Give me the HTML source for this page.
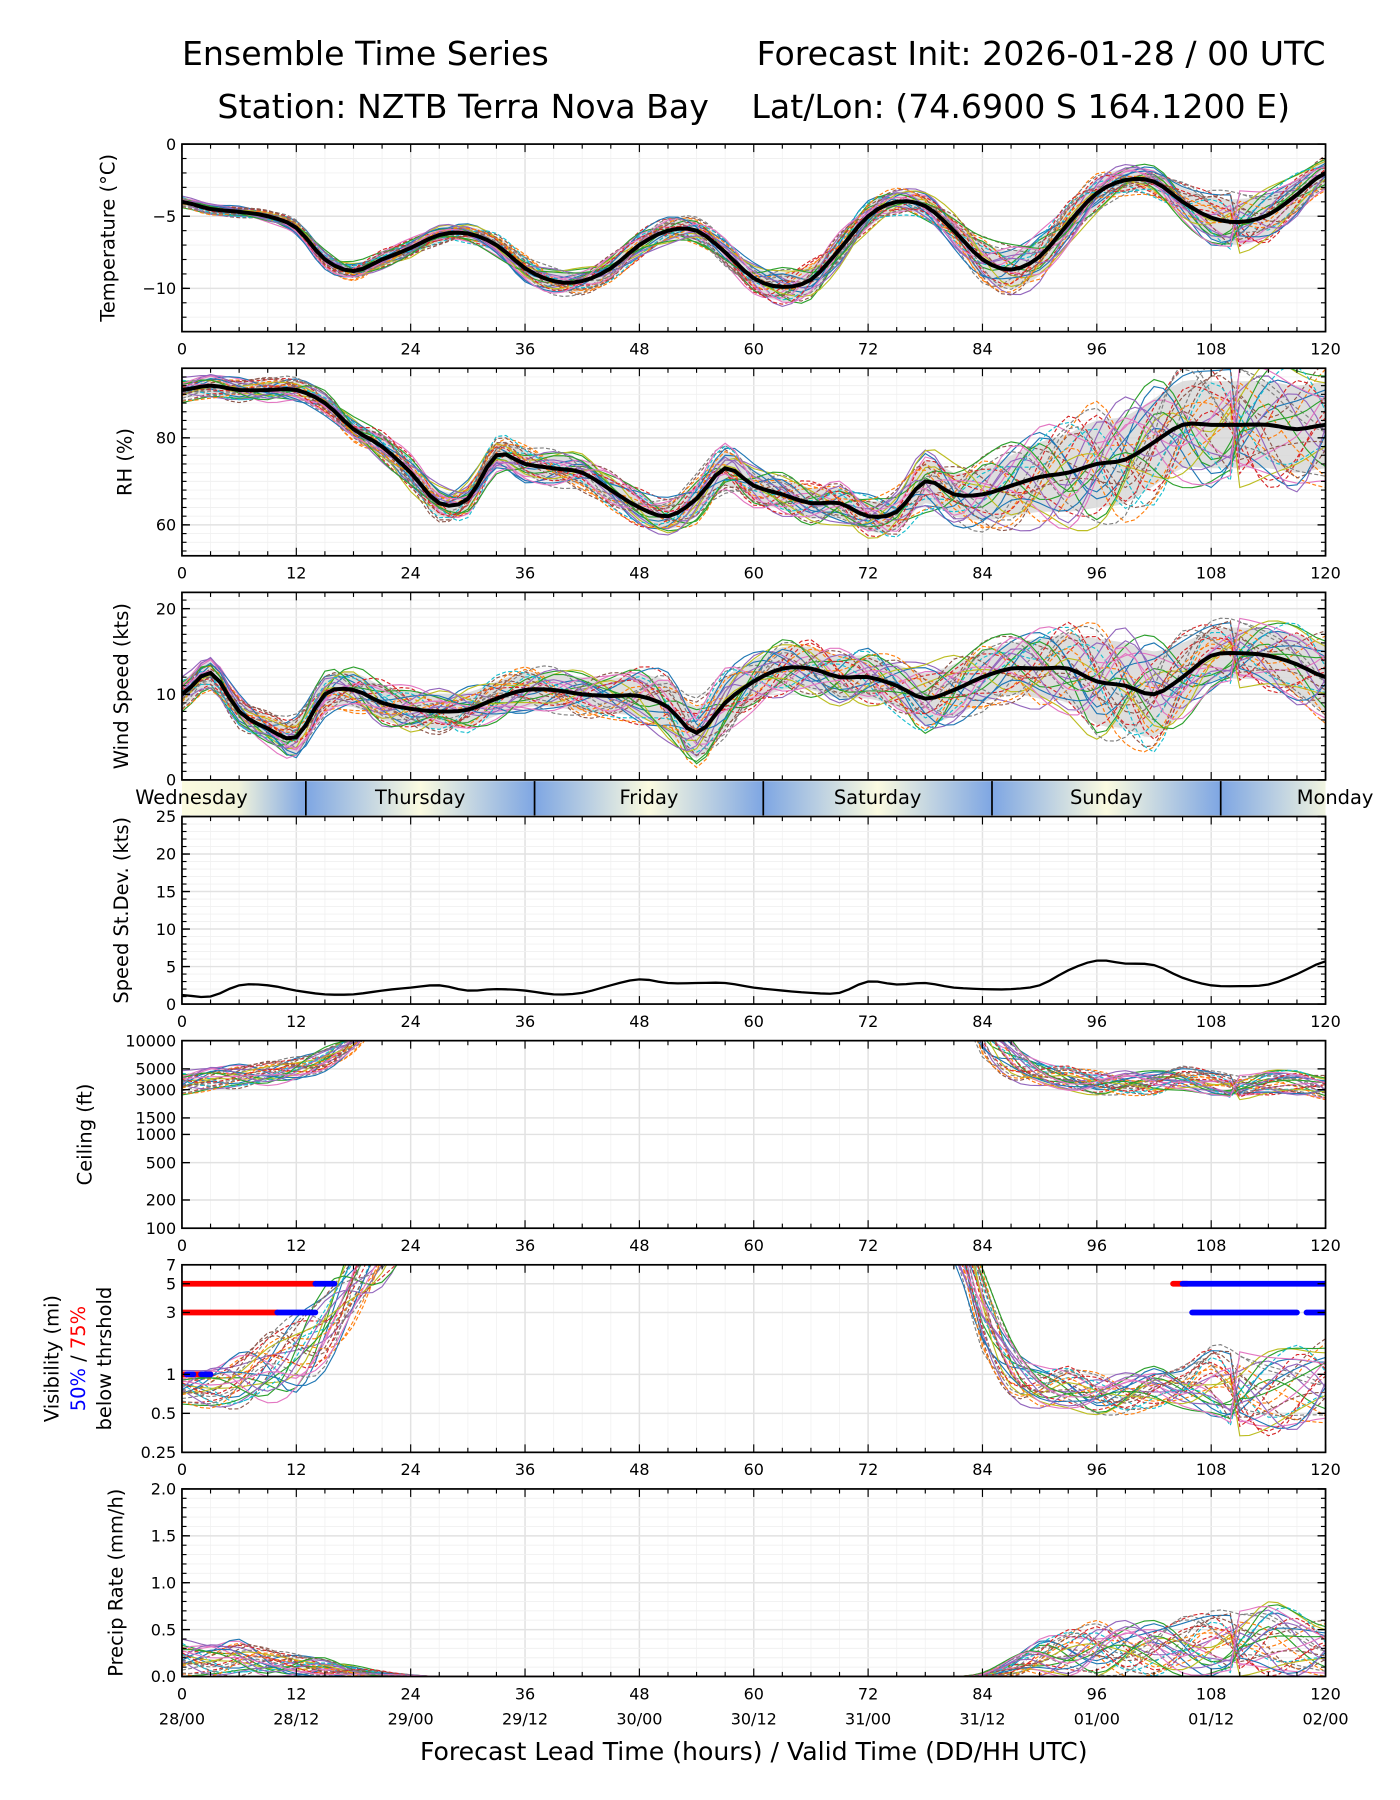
<!DOCTYPE html>
<html><head><meta charset="utf-8"><style>
html,body{margin:0;padding:0;background:#fff;}
svg{display:block;font-family:"DejaVu Sans","Liberation Sans",sans-serif;}
</style></head><body>
<svg id="chart" xmlns="http://www.w3.org/2000/svg" width="1400" height="1800" viewBox="0 0 1224 1574">
<defs>
<linearGradient id="gFirst" x1="0" x2="1" y1="0" y2="0"><stop offset="0" stop-color="#fbfbe0"/><stop offset="0.45" stop-color="#f2f4dc"/><stop offset="1" stop-color="#7ea6e3"/></linearGradient>
<linearGradient id="gDay" x1="0" x2="1" y1="0" y2="0"><stop offset="0" stop-color="#7ea6e3"/><stop offset="0.5" stop-color="#fbfbe0"/><stop offset="1" stop-color="#7ea6e3"/></linearGradient>
</defs>
<g font-size="29">
<text x="159" y="57">Ensemble Time Series</text>
<text x="1159" y="57" text-anchor="end">Forecast Init: 2026-01-28 / 00 UTC</text>
<text x="190" y="103">Station: NZTB Terra Nova Bay</text>
<text x="1128" y="103" text-anchor="end">Lat/Lon: (74.6900 S 164.1200 E)</text>
</g>
<g id="root"></g>
</svg>
<script>
// ---------- DATA (3-hourly, lead hours 0..120) ----------
const hours = [0,3,6,9,12,15,18,21,24,27,30,33,36,39,42,45,48,51,54,57,60,63,66,69,72,75,78,81,84,87,90,93,96,99,102,105,108,111,114,117,120];
const tempMean = [-4.0,-4.5,-4.7,-5.0,-5.8,-8.0,-8.8,-8.0,-7.2,-6.3,-6.2,-7.0,-8.6,-9.5,-9.5,-8.6,-7.0,-6.0,-6.0,-7.5,-9.3,-9.9,-9.4,-7.3,-5.0,-4.0,-4.3,-6.0,-8.0,-8.7,-7.8,-5.5,-3.4,-2.5,-2.6,-4.0,-5.1,-5.4,-4.9,-3.5,-2.0];
const tempSpread = [0.3,0.3,0.3,0.3,0.4,0.5,0.5,0.5,0.5,0.5,0.5,0.6,0.7,0.7,0.7,0.7,0.7,0.7,0.7,0.7,0.8,1.0,1.0,0.9,0.8,0.7,0.7,0.9,1.2,1.3,1.3,1.1,1.0,0.8,0.8,1.0,1.4,1.6,1.4,1.1,0.9];
const rhMean = [91,92,91,91,91,88,82,78,72,65,66,76,74,73,72,68,64,62,66,73,69,67,65,65,62,63,70,67,67,69,71,72,74,75,79,83,83,83,83,82,83];
const rhSpread = [2,2,2,2,2,2,2,2.5,3,3,3,3,3,3,3,3,3,3,4,4,3.5,3.5,3.5,3.5,3.5,4,5,5,6,7,8,9,10,10,10,10,10,10,10,10,10];
const windMean = [10,12.5,8,6,5,10,10.5,9,8.3,8,8.2,9.5,10.5,10.5,10,9.8,9.8,8.5,5.5,9,11.5,13,13,12,12,11,9.5,10.5,12,13,13,13,11.5,11,10,12,14.5,14.8,14.5,13.5,12];
const windSpread = [1.5,1.5,1.5,1.5,2,2,2,2,2,2,2,2,2,2,2,2,2.5,3,3,3,2.5,2.5,2.5,2.5,2.5,2.5,3,3,3,3,3.5,4,5,5,5,4,3,3,3,3.5,4];
const stdDev = [1.2,1.0,2.5,2.5,1.8,1.3,1.3,1.8,2.2,2.5,1.8,2.0,1.8,1.3,1.5,2.5,3.3,2.8,2.8,2.8,2.2,1.8,1.5,1.5,3.0,2.6,2.8,2.2,2.0,2.0,2.5,4.5,5.8,5.4,5.2,3.5,2.5,2.4,2.6,4.0,5.7];
const ceilLogMean = [3.55,3.6,3.62,3.65,3.7,3.8,4.0,4.3,4.6,4.8,4.8,4.8,4.8,4.8,4.8,4.8,4.8,4.8,4.8,4.8,4.8,4.8,4.8,4.8,4.8,4.8,4.8,4.8,4.15,3.8,3.65,3.6,3.55,3.55,3.55,3.6,3.55,3.5,3.55,3.55,3.5];
const ceilLogSpread = [0.12,0.12,0.12,0.12,0.12,0.12,0.12,0.12,0.12,0.3,0.3,0.3,0.3,0.3,0.3,0.3,0.3,0.3,0.3,0.3,0.3,0.3,0.3,0.3,0.3,0.3,0.3,0.3,0.3,0.2,0.12,0.12,0.12,0.12,0.12,0.12,0.12,0.12,0.12,0.12,0.12];
const visLogMean = [-0.1,-0.1,-0.05,0.05,0.15,0.35,0.7,1.0,1.2,1.2,1.2,1.2,1.2,1.2,1.2,1.2,1.2,1.2,1.2,1.2,1.2,1.2,1.2,1.2,1.2,1.2,1.2,1.2,0.5,0.05,-0.1,-0.1,-0.15,-0.15,-0.1,-0.1,-0.05,-0.15,-0.15,-0.1,-0.05];
const visLogSpread = [0.12,0.15,0.2,0.25,0.3,0.3,0.3,0.3,0.3,0.3,0.3,0.3,0.3,0.3,0.3,0.3,0.3,0.3,0.3,0.3,0.3,0.3,0.3,0.3,0.3,0.3,0.3,0.3,0.3,0.2,0.15,0.15,0.15,0.15,0.15,0.15,0.25,0.3,0.3,0.3,0.3];
const precipMean = [0.2,0.18,0.2,0.15,0.12,0.1,0.06,0.03,0.01,0,0,0,0,0,0,0,0,0,0,0,0,0,0,0,0,0,0,0,0.02,0.1,0.2,0.25,0.3,0.3,0.3,0.32,0.35,0.35,0.4,0.35,0.3];
// member perturbations (6-hourly, 0..120), unitless
const memberOffsets = [
[0.2,-0.5,0.8,0.3,-0.6,0.9,-0.2,0.5,-0.8,0.1,0.6,-0.4,0.9,-0.7,0.3,0.8,-0.5,0.2,-0.9,0.6,0.4],
[-0.4,0.7,-0.2,-0.8,0.5,0.1,0.9,-0.6,0.3,-0.9,0.2,0.7,-0.3,0.5,-0.8,0.1,0.9,-0.6,0.4,-0.2,0.8],
[0.6,0.1,-0.7,0.9,0.2,-0.5,0.4,0.8,-0.3,0.6,-0.7,0.2,0.5,-0.9,0.7,-0.4,0.1,0.9,-0.5,0.3,-0.6],
[-0.8,-0.3,0.4,-0.1,0.8,-0.7,0.3,-0.2,0.9,0.4,-0.5,0.9,-0.8,0.2,0.6,-0.3,-0.7,0.5,0.8,-0.9,0.2],
[0.9,0.5,0.1,-0.5,-0.2,0.6,-0.8,0.2,0.5,-0.6,0.8,-0.1,0.3,0.9,-0.5,-0.9,0.6,-0.2,0.1,0.7,-0.4],
[-0.1,-0.9,0.6,0.5,-0.4,-0.3,0.7,-0.9,-0.1,0.8,0.3,-0.8,0.6,-0.4,0.9,0.5,-0.2,-0.8,0.7,0.1,0.9],
[0.4,0.8,-0.5,0.2,0.9,-0.1,-0.6,0.6,0.7,-0.3,-0.9,0.4,-0.6,0.7,-0.1,0.9,0.3,0.6,-0.3,-0.7,-0.8],
[-0.6,0.3,0.9,-0.6,0.1,0.4,-0.3,-0.5,0.2,0.9,0.5,-0.6,0.1,-0.2,-0.9,0.4,0.8,-0.4,0.9,0.5,-0.1],
[0.1,-0.2,-0.4,0.7,-0.9,0.8,0.2,0.9,-0.6,-0.2,0.7,0.5,-0.9,0.4,0.2,-0.6,-0.9,0.3,-0.1,0.9,0.6],
[0.7,-0.7,0.3,-0.3,0.6,-0.9,0.5,-0.1,0.6,-0.5,-0.2,0.1,0.8,-0.5,0.5,0.2,0.5,-0.9,0.6,-0.5,-0.3],
[-0.3,0.9,-0.8,0.6,-0.3,0.3,-0.9,0.4,-0.4,0.3,0.9,-0.3,-0.2,0.8,-0.6,0.7,-0.4,0.8,-0.7,0.2,0.5],
[0.5,0.2,0.2,-0.9,0.4,-0.6,0.8,-0.8,0.1,0.7,-0.4,0.6,0.4,-0.8,0.8,-0.8,0.2,0.1,0.3,-0.4,-0.9],
[-0.9,-0.6,-0.1,0.1,0.7,0.2,-0.4,0.3,0.8,-0.8,0.1,-0.9,0.7,0.1,-0.3,0.6,-0.8,0.4,-0.6,0.8,0.7],
[0.3,0.6,0.7,-0.4,-0.7,0.5,0.1,-0.3,-0.9,0.5,-0.8,0.8,-0.5,0.6,0.1,-0.2,0.7,-0.7,0.2,-0.8,0.1]
];
// visibility threshold bars: [level(mi), startHour, endHour, color]
const visBars = [[5,0,14,"red"],[5,14,16,"blue"],[3,0,10,"red"],[3,10,14,"blue"],[1,0,3,"red"],[1,0.5,1.2,"blue"],[1,2,3,"blue"],[5,104,105.5,"red"],[5,105,120,"blue"],[3,106,117,"blue"],[3,118,120,"blue"]];
const xTicks = [0,12,24,36,48,60,72,84,96,108,120];
const dateLabels = ["28/00","28/12","29/00","29/12","30/00","30/12","31/00","31/12","01/00","01/12","02/00"];
const dayNames = ["Wednesday","Thursday","Friday","Saturday","Sunday","Monday"];
const dayBounds = [13,37,61,85,109];
const colors = ["#1f77b4","#ff7f0e","#2ca02c","#d62728","#9467bd","#8c564b","#e377c2","#7f7f7f","#bcbd22","#17becf"];

// ---------- helpers ----------
const NS="http://www.w3.org/2000/svg";
const root=document.getElementById('root');
const X0=159,X1=1159;
const xs=h=>X0+(h/120)*(X1-X0);
function el(tag,attrs,parent){const e=document.createElementNS(NS,tag);for(const k in attrs)e.setAttribute(k,attrs[k]);(parent||root).appendChild(e);return e;}
function cr(arr,step,t){
  const f=t/step;let i=Math.floor(f);if(i>=arr.length-1)return arr[arr.length-1];
  const u=f-i;const p0=arr[Math.max(i-1,0)],p1=arr[i],p2=arr[i+1],p3=arr[Math.min(i+2,arr.length-1)];
  return 0.5*((2*p1)+(-p0+p2)*u+(2*p0-5*p1+4*p2-p3)*u*u+(-p0+3*p1-3*p2+p3)*u*u*u);
}
function offAt(m,t){const k=m%14;const row=memberOffsets[k];let v=cr(row,6,t);if(m>=14){v=-cr(row,6,(t+9)%120);}return v;}
const fine=[];for(let t=0;t<=120;t+=1)fine.push(t);

function panel(cfg){
  const g=el('g',{});
  
  
  const top=cfg.top,bot=cfg.top+164;
  const lmin=cfg.log?Math.log10(cfg.min):cfg.min,lmax=cfg.log?Math.log10(cfg.max):cfg.max;
  const ys=v=>{const lv=cfg.log?Math.log10(v):v;return bot-(lv-lmin)/(lmax-lmin)*(bot-top);};
  const cid='clip'+cfg.name;
  const cp=el('clipPath',{id:cid},g);el('rect',{x:X0,y:top,width:X1-X0,height:bot-top},cp);
  const grid=el('g',{},g);
  
  
  for(let h=0;h<=120;h+=3){el('line',{x1:xs(h),x2:xs(h),y1:top,y2:bot,stroke:h%12?'#f3f3f3':'#e2e2e2','stroke-width':h%12?0.8:1.3},grid);}
  (cfg.minor||[]).forEach(v=>el('line',{x1:X0,x2:X1,y1:ys(v),y2:ys(v),stroke:'#f0f0f0','stroke-width':0.8},grid));
  cfg.ticks.forEach(v=>el('line',{x1:X0,x2:X1,y1:ys(v),y2:ys(v),stroke:'#e2e2e2','stroke-width':1.3},grid));
  const data=el('g',{'clip-path':'url(#'+cid+')'},g);
  cfg.draw(data,ys);
  el('rect',{x:X0,y:top,width:X1-X0,height:bot-top,fill:'none',stroke:'#000','stroke-width':1.5},g);
  for(let h=0;h<=120;h+=3){const L=h%12?4:7;el('line',{x1:xs(h),x2:xs(h),y1:bot,y2:bot-L,stroke:'#000','stroke-width':1},g);el('line',{x1:xs(h),x2:xs(h),y1:top,y2:top+L,stroke:'#000','stroke-width':1},g);}
  (cfg.minor||[]).forEach(v=>{el('line',{x1:X0,x2:X0+4,y1:ys(v),y2:ys(v),stroke:'#000'},g);el('line',{x1:X1,x2:X1-4,y1:ys(v),y2:ys(v),stroke:'#000'},g);});
  cfg.ticks.forEach((v,i)=>{
    el('line',{x1:X0,x2:X0+7,y1:ys(v),y2:ys(v),stroke:'#000','stroke-width':1.2},g);
    el('line',{x1:X1,x2:X1-7,y1:ys(v),y2:ys(v),stroke:'#000','stroke-width':1.2},g);
    const t=el('text',{x:X0-5,y:ys(v)+5,'text-anchor':'end','font-size':14},g);t.textContent=cfg.tickLabels[i];
  });
  if(!cfg.noX) xTicks.forEach(h=>{const t=el('text',{x:xs(h),y:bot+20,'text-anchor':'middle','font-size':14},g);t.textContent=h;});
  if(cfg.label){const t=el('text',{x:0,y:0,'text-anchor':'middle','font-size':17,transform:`translate(${cfg.lx||100},${(top+bot)/2}) rotate(-90)`},g);t.textContent=cfg.label;
    }
  return g;
}
function pathFrom(ts,fx,ys){let d='';ts.forEach((t,i)=>{const v=fx(t);if(v==null)return;d+=(d?'L':'M')+xs(t).toFixed(1)+','+ys(v).toFixed(1);});return d;}
function ensemble(g,ys,meanArr,sprArr,mult,nm,transform){
  for(let m=0;m<28;m++){
    const p=el('path',{d:pathFrom(fine,t=>transform(cr(meanArr,3,t)+offAt(m,t)*cr(sprArr,3,t)*mult),ys),fill:'none',stroke:colors[m%10],'stroke-width':1,'stroke-dasharray':(m%2)?'3.5,2':'none'},g);
    
    
  }
}
function band(g,ys,meanArr,sprArr,nm){
  let d=pathFrom(fine,t=>cr(meanArr,3,t)+cr(sprArr,3,t),ys);
  const rev=fine.slice().reverse();
  d+=pathFrom(rev,t=>cr(meanArr,3,t)-cr(sprArr,3,t),ys).replace('M','L')+'Z';
  const p=el('path',{d:d,fill:'#d6d6d6',opacity:0.8},g);
  
  
}
function meanLine(g,ys,arr,nm,w){
  const p=el('path',{d:pathFrom(fine,t=>cr(arr,3,t),ys),fill:'none',stroke:'#000','stroke-width':w||3.5},g);
  
  
}
const id=v=>v;
function range(a,b,s){const r=[];for(let v=a;v<=b+1e-9;v+=s)r.push(+v.toFixed(3));return r;}

panel({name:'temperature-panel',top:126,min:-13,max:0,ticks:[-10,-5,0],tickLabels:['\u221210','\u22125','0'],minor:range(-13,0,1),label:'Temperature (\u00b0C)',lx:100,
 draw:(g,ys)=>{band(g,ys,tempMean,tempSpread,'temperature');ensemble(g,ys,tempMean,tempSpread,1.5,'temperature',id);meanLine(g,ys,tempMean,'temperature-mean-line');}});
panel({name:'rh-panel',top:322,min:52.9,max:96,ticks:[60,80],tickLabels:['60','80'],minor:range(54,96,2),label:'RH (%)',lx:115,
 draw:(g,ys)=>{band(g,ys,rhMean,rhSpread,'rh');ensemble(g,ys,rhMean,rhSpread,1.6,'rh',id);meanLine(g,ys,rhMean,'rh-mean-line');}});
panel({name:'wind-panel',top:518,min:0,max:21.9,noX:true,ticks:[0,10,20],tickLabels:['0','10','20'],minor:range(0,21,1),label:'Wind Speed (kts)',lx:112,
 draw:(g,ys)=>{band(g,ys,windMean,windSpread,'wind');ensemble(g,ys,windMean,windSpread,1.5,'wind',v=>Math.max(0,v));meanLine(g,ys,windMean,'wind-mean-line');}});
panel({name:'stddev-panel',top:714,min:0,max:25,ticks:[0,5,10,15,20,25],tickLabels:['0','5','10','15','20','25'],minor:range(0,25,1),label:'Speed St.Dev. (kts)',lx:112,
 draw:(g,ys)=>{meanLine(g,ys,stdDev,'stddev-line',2);}});
panel({name:'ceiling-panel',top:910,min:100,max:10000,log:true,ticks:[100,200,500,1000,1500,3000,5000,10000],tickLabels:['100','200','500','1000','1500','3000','5000','10000'],label:'Ceiling (ft)',lx:80,
 draw:(g,ys)=>{ensemble(g,ys,ceilLogMean,ceilLogSpread,1.2,'ceiling',v=>Math.pow(10,v));}});
panel({name:'visibility-panel',top:1106,min:0.25,max:7,log:true,ticks:[0.25,0.5,1,3,5,7],tickLabels:['0.25','0.5','1','3','5','7'],label:'',
 draw:(g,ys)=>{ensemble(g,ys,visLogMean,visLogSpread,1.2,'visibility',v=>Math.pow(10,v));
  visBars.forEach((b,i)=>{const l=el('line',{x1:xs(b[1]),x2:xs(b[2]),y1:ys(b[0]),y2:ys(b[0]),stroke:b[3],'stroke-width':5,'stroke-linecap':'round'},g);
   });}});
panel({name:'precip-panel',top:1302,min:0,max:2,ticks:[0,0.5,1,1.5,2],tickLabels:['0.0','0.5','1.0','1.5','2.0'],minor:range(0,2,0.1),label:'Precip Rate (mm/h)',lx:107,
 draw:(g,ys)=>{for(let m=0;m<28;m++){const p=el('path',{d:pathFrom(fine,t=>Math.max(0,cr(precipMean,3,t)*(1+offAt(m,t)*1.1)),ys),fill:'none',stroke:colors[m%10],'stroke-width':1,'stroke-dasharray':(m%2)?'3.5,2':'none'},g);
   
   }}});

(function(){const g=el('g',{'font-size':17,'text-anchor':'middle'});
 
 
 const c=1188;
 let t=el('text',{transform:`translate(51,${c}) rotate(-90)`},g);t.textContent='Visibility (mi)';
 t=el('text',{transform:`translate(74,${c}) rotate(-90)`},g);
 const a=el('tspan',{fill:'blue'},t);a.textContent='50%';const s=el('tspan',{},t);s.textContent=' / ';const b=el('tspan',{fill:'red'},t);b.textContent='75%';
 t=el('text',{transform:`translate(97,${c}) rotate(-90)`},g);t.textContent='below thrshold';})();

(function(){const g=el('g',{});
 
 
 const cp=el('clipPath',{id:'dayclip'},g);el('rect',{x:X0,y:683,width:X1-X0,height:30},cp);
 const edges=[0].concat(dayBounds).concat([120]);
 for(let i=0;i<edges.length-1;i++){
   const a=edges[i],b=i===edges.length-2?edges[i]+24:edges[i+1];
   const r=el('rect',{x:xs(a),y:683,width:xs(b)-xs(a),height:30,fill:i===0?'url(#gFirst)':'url(#gDay)','clip-path':'url(#dayclip)'},g);
   
   
 }
 dayBounds.forEach(h=>el('line',{x1:xs(h),x2:xs(h),y1:683,y2:713,stroke:'#000','stroke-width':1.5},g));
 dayNames.forEach((n,i)=>{const t=el('text',{x:xs(1+24*i),y:703,'text-anchor':'middle','font-size':17},g);t.textContent=n;
   });
})();

(function(){const g=el('g',{'font-size':14,'text-anchor':'middle'});
 
 
 xTicks.forEach((h,i)=>{const t=el('text',{x:xs(h),y:1508},g);t.textContent=dateLabels[i];});
 const t=el('text',{x:659,y:1539,'text-anchor':'middle','font-size':22});t.textContent='Forecast Lead Time (hours) / Valid Time (DD/HH UTC)';
 
})();
</script>
</body></html>
